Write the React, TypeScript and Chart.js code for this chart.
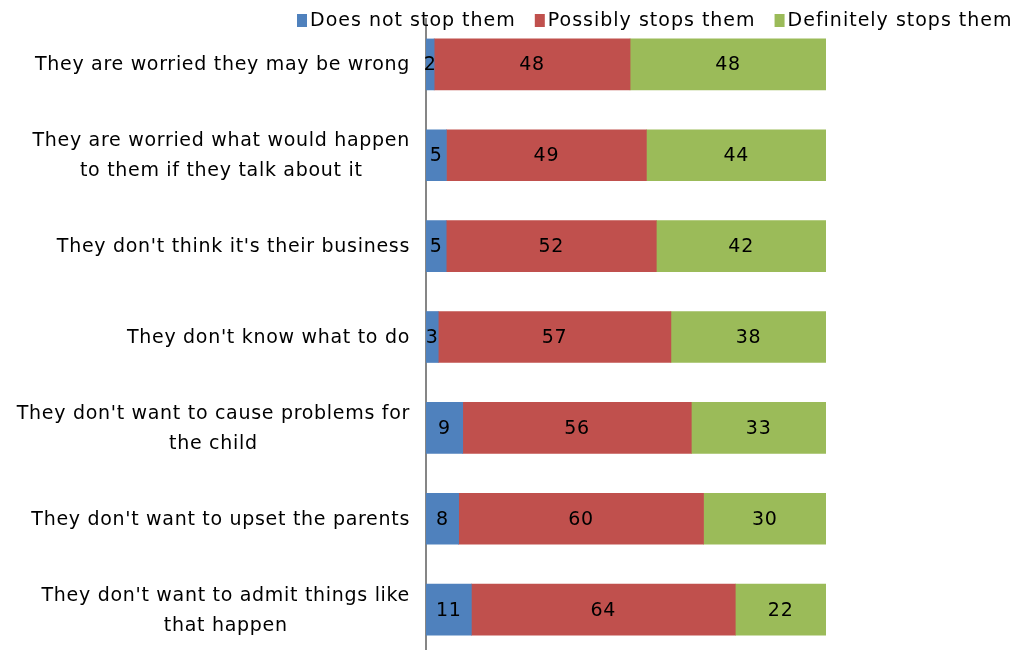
import React, { useEffect, useRef } from "react";
import { Chart, registerables } from "chart.js";

Chart.register(...registerables);

const categories: (string | string[])[] = [
  "They are worried they may be wrong",
  ["They are worried what would happen", "to them if they talk about it"],
  "They don't think it's their business",
  "They don't know what to do",
  ["They don't want to cause problems for", "the child"],
  "They don't want to upset the parents",
  ["They don't want to admit things like", "that happen"],
];
const seriesNames = ["Does not stop them", "Possibly stops them", "Definitely stops them"];
const doesNotStop = [2, 5, 5, 3, 9, 8, 11];
const possiblyStops = [48, 49, 52, 57, 56, 60, 64];
const definitelyStops = [48, 44, 42, 38, 33, 30, 22];
const colors = ["#4F81BD", "#C0504D", "#9BBB59"];

const FONT = "'DejaVu Sans', Verdana, sans-serif";

export default function App() {
  const ref = useRef<HTMLCanvasElement | null>(null);
  useEffect(() => {
    if (!ref.current) return;
    const raw = [doesNotStop, possiblyStops, definitelyStops];
    const totals = categories.map((_, i) => raw.reduce((s, a) => s + a[i], 0));
    const datasets = raw.map((arr, k) => ({
      label: seriesNames[k],
      data: arr.map((v, i) => (v / totals[i]) * 100),
      backgroundColor: colors[k],
      borderWidth: 0,
      barThickness: 51,
    }));

    const catLabelPlugin = {
      id: "catLabels",
      afterDraw(chart: any) {
        const ctx = chart.ctx;
        const scale = chart.scales.y;
        ctx.save();
        ctx.font = `19px ${FONT}`;
        ctx.letterSpacing = "0.7px";
        ctx.fillStyle = "#000";
        ctx.textAlign = "center";
        ctx.textBaseline = "middle";
        const right = scale.right - 16;
        const lineH = 30;
        categories.forEach((lab, i) => {
          const lines = Array.isArray(lab) ? lab : [lab];
          const w = Math.max(...lines.map((l) => ctx.measureText(l).width));
          const cx = right - w / 2;
          const y = scale.getPixelForTick(i);
          lines.forEach((l, j) => {
            ctx.fillText(l, cx, y + (j - (lines.length - 1) / 2) * lineH + 1);
          });
        });
        ctx.restore();
      },
    };

    const labelPlugin = {
      id: "vals",
      afterDatasetsDraw(chart: any) {
        const ctx = chart.ctx;
        ctx.save();
        ctx.font = `19px ${FONT}`;
        ctx.letterSpacing = "0.7px";
        ctx.fillStyle = "#000";
        ctx.textAlign = "center";
        ctx.textBaseline = "middle";
        chart.data.datasets.forEach((_: any, k: number) => {
          const meta = chart.getDatasetMeta(k);
          meta.data.forEach((el: any, i: number) => {
            ctx.fillText(String(raw[k][i]), (el.x + el.base) / 2, el.y + 1);
          });
        });
        ctx.restore();
      },
    };

    const legendPlugin = {
      id: "legendX",
      afterDraw(chart: any) {
        const ctx = chart.ctx;
        ctx.save();
        ctx.font = `19px ${FONT}`;
        ctx.letterSpacing = "1px";
        ctx.textBaseline = "middle";
        ctx.textAlign = "left";
        let x = 297;
        const y = 21;
        seriesNames.forEach((name, k) => {
          ctx.fillStyle = colors[k];
          ctx.fillRect(x, 14, 10, 13);
          ctx.fillStyle = "#000";
          ctx.fillText(name, x + 13, y);
          x += 13 + ctx.measureText(name).width + 19;
        });
        ctx.restore();
      },
    };

    const chart = new Chart(ref.current, {
      type: "bar",
      data: { labels: categories, datasets },
      plugins: [labelPlugin, catLabelPlugin, legendPlugin],
      options: {
        indexAxis: "y",
        animation: false,
        responsive: false,
        layout: { padding: { top: 19, right: 192, bottom: 1, left: 0 } },
        plugins: { legend: { display: false }, tooltip: { enabled: false } },
        scales: {
          x: { stacked: true, display: false, min: 0, max: 100 },
          y: {
            stacked: true,
            grid: { display: false, drawTicks: false },
            border: { display: true, color: "#868686", width: 2 },
            ticks: { display: false },
            afterFit(scale: any) {
              scale.width = 426;
              scale.paddingTop = 0;
              scale.paddingBottom = 0;
            },
          },
        },
      },
    });
    return () => chart.destroy();
  }, []);
  return (
    <div style={{ position: "fixed", left: 0, top: 0, width: 1018, height: 656, background: "#fff" }}>
      <canvas ref={ref} width={1018} height={656} style={{ width: 1018, height: 656 }} />
    </div>
  );
}
